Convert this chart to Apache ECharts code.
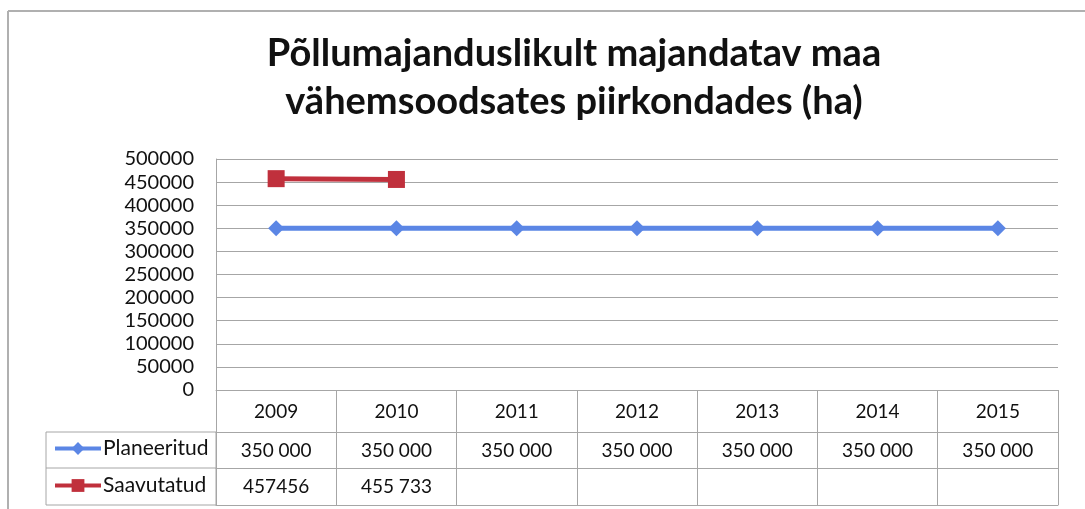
<!DOCTYPE html>
<html>
<head>
<meta charset="utf-8">
<script src="https://cdn.jsdelivr.net/npm/echarts@6/dist/echarts.min.js"></script>
<style>
  html, body { margin: 0; padding: 0; background: #fff; }
  #main { width: 1085px; height: 509px; }
</style>
</head>
<body>
<div id="main"></div>
<script>
// andmed
var years = ['2009', '2010', '2011', '2012', '2013', '2014', '2015'];
var planned = [350000, 350000, 350000, 350000, 350000, 350000, 350000];
var achieved = [457456, 455733, null, null, null, null, null];
// tabeli tekstid nagu pildil
var plannedText = ['350 000', '350 000', '350 000', '350 000', '350 000', '350 000', '350 000'];
var achievedText = ['457456', '455 733', '', '', '', '', ''];
var yTicks = [0, 50000, 100000, 150000, 200000, 250000, 300000, 350000, 400000, 450000, 500000];

var font = 'Lato';
var gridColor = '#a6a6a6';

var myChart = echarts.init(document.getElementById('main'));

function tableAxis(offset, texts) {
  return {
    type: 'category',
    data: years,
    position: 'bottom',
    offset: offset,
    axisLine: { show: true, lineStyle: { color: gridColor, width: 1 } },
    axisTick: { show: false },
    axisLabel: {
      show: !!texts,
      margin: 9,
      fontFamily: font,
      fontSize: 19,
      color: '#111',
      formatter: function (v, i) { return texts ? texts[i] : ''; }
    }
  };
}

function legendRow(name, top) {
  return {
    orient: 'horizontal',
    left: 53,
    top: top,
    padding: 0,
    itemWidth: 46,
    itemHeight: 16,
    lineStyle: { width: 4 },
    textStyle: { fontFamily: font, fontSize: 21, color: '#111', padding: [0, 0, 0, -3] },
    data: [name]
  };
}

var option = {
  animation: false,
  color: ['#5b86e5', '#c0303c'],
  title: {
    text: 'Põllumajanduslikult majandatav maa\nvähemsoodsates piirkondades (ha)',
    left: 574,
    top: 30,
    textAlign: 'center',
    padding: 0,
    textStyle: {
      fontFamily: font,
      fontSize: 38,
      fontWeight: 'bold',
      lineHeight: 48,
      color: '#111'
    }
  },
  legend: [
    legendRow('Planeeritud', 438),
    legendRow('Saavutatud', 475)
  ],
  grid: {
    left: 216,
    right: 27,
    top: 159,
    bottom: 119,
    containLabel: false
  },
  xAxis: [
    {
      type: 'category',
      data: years,
      boundaryGap: true,
      axisLine: { show: true, lineStyle: { color: gridColor, width: 1 } },
      axisTick: { show: true, length: 115, lineStyle: { color: gridColor, width: 1 } },
      axisLabel: { margin: 12, fontFamily: font, fontSize: 19, color: '#111' }
    },
    tableAxis(42, plannedText),
    tableAxis(78, achievedText),
    tableAxis(115, null)
  ],
  yAxis: {
    type: 'value',
    min: yTicks[0],
    max: yTicks[yTicks.length - 1],
    interval: yTicks[1] - yTicks[0],
    axisLine: { show: true, lineStyle: { color: gridColor, width: 1 } },
    axisTick: { show: false },
    axisLabel: {
      margin: 22,
      fontFamily: font,
      fontSize: 20,
      color: '#111',
      formatter: function (v) { return String(v); }
    },
    splitLine: { lineStyle: { color: gridColor, width: 1 } }
  },
  series: [
    {
      name: 'Planeeritud',
      type: 'line',
      data: planned,
      symbol: 'diamond',
      symbolSize: 16,
      lineStyle: { width: 5 },
      itemStyle: { color: '#5b86e5' }
    },
    {
      name: 'Saavutatud',
      type: 'line',
      data: achieved,
      symbol: 'rect',
      symbolSize: 17,
      lineStyle: { width: 5 },
      itemStyle: { color: '#c0303c' }
    }
  ],
  graphic: [
    // diagrammi raam
    { type: 'line', shape: { x1: 8, y1: 11, x2: 1085, y2: 11 }, style: { stroke: '#b0b0b0', lineWidth: 2 } },
    { type: 'line', shape: { x1: 8, y1: 11, x2: 8, y2: 509 }, style: { stroke: '#b0b0b0', lineWidth: 2 } },
    // legendi veerg tabelis
    { type: 'rect', shape: { x: 46, y: 432, width: 170, height: 73 }, style: { fill: 'none', stroke: gridColor, lineWidth: 1 } },
    { type: 'line', shape: { x1: 46, y1: 468, x2: 216, y2: 468 }, style: { stroke: gridColor, lineWidth: 1 } }
  ]
};

myChart.setOption(option);
window.addEventListener('resize', myChart.resize);
</script>
</body>
</html>
